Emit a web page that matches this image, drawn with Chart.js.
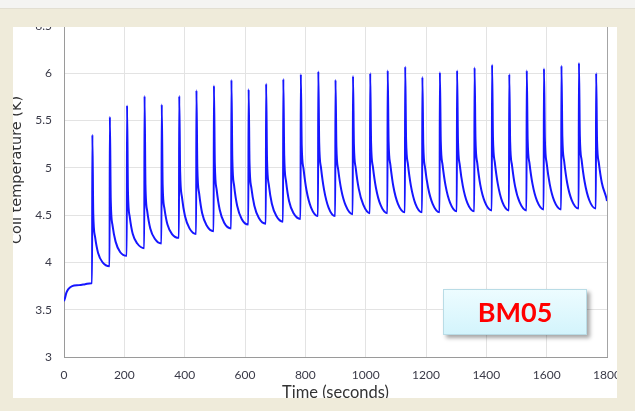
<!DOCTYPE html>
<html>
<head>
<meta charset="utf-8">
<title>Coil temperature</title>
<script src="https://cdn.jsdelivr.net/npm/chart.js@4.4.1/dist/chart.umd.min.js"></script>
<style>
  html, body { margin: 0; padding: 0; }
  body {
    width: 635px; height: 411px; position: relative; overflow: hidden;
    background: #efebda; font-family: Lato, sans-serif;
  }
  #strip {
    position: absolute; left: 0; top: 0; width: 635px; height: 8px;
    background: #f4f4f2; border-bottom: 1px solid #e2dfd2;
  }
  #panel {
    position: absolute; left: 13px; top: 27px; width: 604px; height: 371px;
    background: #fff; overflow: hidden;
  }
  #panel canvas { position: absolute; left: -13px; top: -27px; }
  #tag {
    position: absolute; left: 443px; top: 289px; width: 142px; height: 44px;
    background: linear-gradient(#edfcff, #d3f4fc);
    border: 1px solid #b9dce6;
    box-shadow: 3px 3px 4px rgba(0, 0, 0, .35);
    color: #ff0000; font: bold 27px Lato, sans-serif;
    text-align: center; line-height: 44px;
  }
</style>
</head>
<body>
<div id="strip"></div>
<div id="panel"><canvas id="chart" width="635" height="411"></canvas></div>
<div id="tag">BM05</div>

<script>
// cool-down before the first pulse
const warmupTimes = [0, 3, 8, 15, 27, 50, 70, 90];
const warmupTemps = [3.59, 3.62, 3.68, 3.72, 3.75, 3.76, 3.77, 3.78];

// one entry per heat pulse (seconds, K)
const spikeTimes  = [93, 151, 208, 266, 323, 381, 438, 496, 554, 611,
                     669, 726, 784, 842, 899, 957, 1014, 1072, 1130, 1187,
                     1245, 1302, 1360, 1418, 1475, 1533, 1590, 1648, 1706, 1763];
const troughTemps = [3.78, 3.96, 4.07, 4.15, 4.20, 4.26, 4.30, 4.33, 4.36, 4.40,
                     4.41, 4.43, 4.46, 4.49, 4.49, 4.51, 4.52, 4.52, 4.53, 4.53,
                     4.53, 4.54, 4.54, 4.55, 4.55, 4.55, 4.56, 4.56, 4.57, 4.57];
const peakTemps   = [5.35, 5.54, 5.66, 5.76, 5.67, 5.76, 5.82, 5.87, 5.93, 5.83,
                     5.89, 5.94, 5.99, 6.02, 5.93, 5.97, 6.00, 6.03, 6.07, 5.96,
                     6.01, 6.03, 6.06, 6.09, 5.99, 6.03, 6.05, 6.08, 6.11, 6.00];
// readings along each decay, 4 / 10 / 20 / 35 s after the pulse
const temp4s  = [4.52, 4.66, 4.75, 4.82, 4.82, 4.96, 5.00, 5.04, 5.09, 5.05,
                 5.09, 5.13, 5.24, 5.26, 5.22, 5.25, 5.26, 5.28, 5.30, 5.25,
                 5.28, 5.29, 5.31, 5.32, 5.27, 5.30, 5.31, 5.33, 5.34, 5.29];
const temp10s = [4.27, 4.39, 4.48, 4.54, 4.57, 4.69, 4.73, 4.77, 4.81, 4.79,
                 4.82, 4.86, 4.99, 5.00, 4.98, 5.00, 5.01, 5.03, 5.04, 5.00,
                 5.03, 5.03, 5.05, 5.06, 5.03, 5.05, 5.05, 5.07, 5.08, 5.05];
const temp20s = [4.10, 4.22, 4.30, 4.36, 4.40, 4.49, 4.52, 4.56, 4.60, 4.60,
                 4.62, 4.65, 4.76, 4.77, 4.77, 4.78, 4.79, 4.80, 4.81, 4.79,
                 4.81, 4.81, 4.82, 4.83, 4.81, 4.83, 4.83, 4.84, 4.85, 4.84];
const temp35s = [4.00, 4.11, 4.20, 4.25, 4.30, 4.36, 4.39, 4.42, 4.46, 4.47,
                 4.49, 4.52, 4.58, 4.58, 4.60, 4.61, 4.61, 4.62, 4.62, 4.62,
                 4.63, 4.63, 4.64, 4.64, 4.64, 4.65, 4.65, 4.66, 4.66, 4.68];
const endTime = 1800;
const endTemp = 4.65;

const xTicks = [0, 200, 400, 600, 800, 1000, 1200, 1400, 1600, 1800];
const yTicks = [3, 3.5, 4, 4.5, 5, 5.5, 6, 6.5];

const X_TITLE = "Time (seconds)";
const Y_TITLE = "Coil temperature (K)";

function buildPoints() {
  const pts = warmupTimes.map((t, i) => ({ x: t, y: warmupTemps[i] }));
  spikeTimes.forEach((t, i) => {
    pts.push({ x: t,      y: troughTemps[i] });
    pts.push({ x: t + 1,  y: peakTemps[i] });
    pts.push({ x: t + 4,  y: temp4s[i] });
    pts.push({ x: t + 10, y: temp10s[i] });
    pts.push({ x: t + 20, y: temp20s[i] });
    pts.push({ x: t + 35, y: temp35s[i] });
  });
  pts.push({ x: endTime, y: endTemp });
  return pts;
}

// right-hand edge of the plot box
const frame = {
  id: "frame",
  beforeDatasetsDraw(chart) {
    const { ctx, chartArea: a } = chart;
    ctx.save();
    ctx.strokeStyle = "#a4a4a4";
    ctx.lineWidth = 1;
    ctx.beginPath();
    ctx.moveTo(a.right + 0.5, a.top);
    ctx.lineTo(a.right + 0.5, a.bottom);
    ctx.stroke();
    ctx.restore();
  },
};

// y title sits a bit above the middle of the axis, so draw it by hand
const yTitle = {
  id: "yTitle",
  afterDraw(chart) {
    const { ctx, chartArea: a } = chart;
    ctx.save();
    ctx.translate(a.left - 43.5, a.top + (a.bottom - a.top) * 0.435);
    ctx.rotate(-Math.PI / 2);
    ctx.font = "14.5px 'DejaVu Sans'";
    ctx.fillStyle = "#333";
    ctx.textAlign = "center";
    ctx.textBaseline = "alphabetic";
    ctx.fillText(Y_TITLE, 0, 0);
    ctx.restore();
  },
};

const TICK = "#3a3a48";

new Chart(document.getElementById("chart"), {
  type: "line",
  data: {
    datasets: [{
      data: buildPoints(),
      borderColor: "#1616ff",
      borderWidth: 2,
      pointRadius: 0,
      cubicInterpolationMode: "monotone",
    }],
  },
  options: {
    responsive: false,
    animation: false,
    events: [],
    layout: { padding: { left: 0, top: 26, right: 28, bottom: 0 } },
    plugins: { legend: { display: false }, tooltip: { enabled: false } },
    scales: {
      x: {
        type: "linear",
        min: xTicks[0],
        max: xTicks[xTicks.length - 1],
        afterBuildTicks: s => { s.ticks = xTicks.map(v => ({ value: v })); },
        afterFit: s => { s.height = 54; },
        ticks: { color: TICK, font: { family: "Lato", size: 12 }, padding: 11,
                 autoSkip: false, maxRotation: 0, callback: v => String(v) },
        grid: { color: "#e3e3e3", drawTicks: false },
        border: { color: "#9a9a9a", width: 1 },
        title: { display: true, text: X_TITLE, color: "#333",
                 font: { family: "Lato", size: 16.5 }, padding: { bottom: 8 } },
      },
      y: {
        min: yTicks[0],
        max: yTicks[yTicks.length - 1],
        afterBuildTicks: s => { s.ticks = yTicks.map(v => ({ value: v })); },
        afterFit: s => { s.width = 64; },
        ticks: { color: TICK, font: { family: "Lato", size: 12 }, padding: 12,
                 callback: v => String(v) },
        grid: { color: "#e3e3e3", drawTicks: false },
        border: { color: "#9a9a9a", width: 1 },
      },
    },
  },
  plugins: [frame, yTitle],
});
</script>
</body>
</html>
